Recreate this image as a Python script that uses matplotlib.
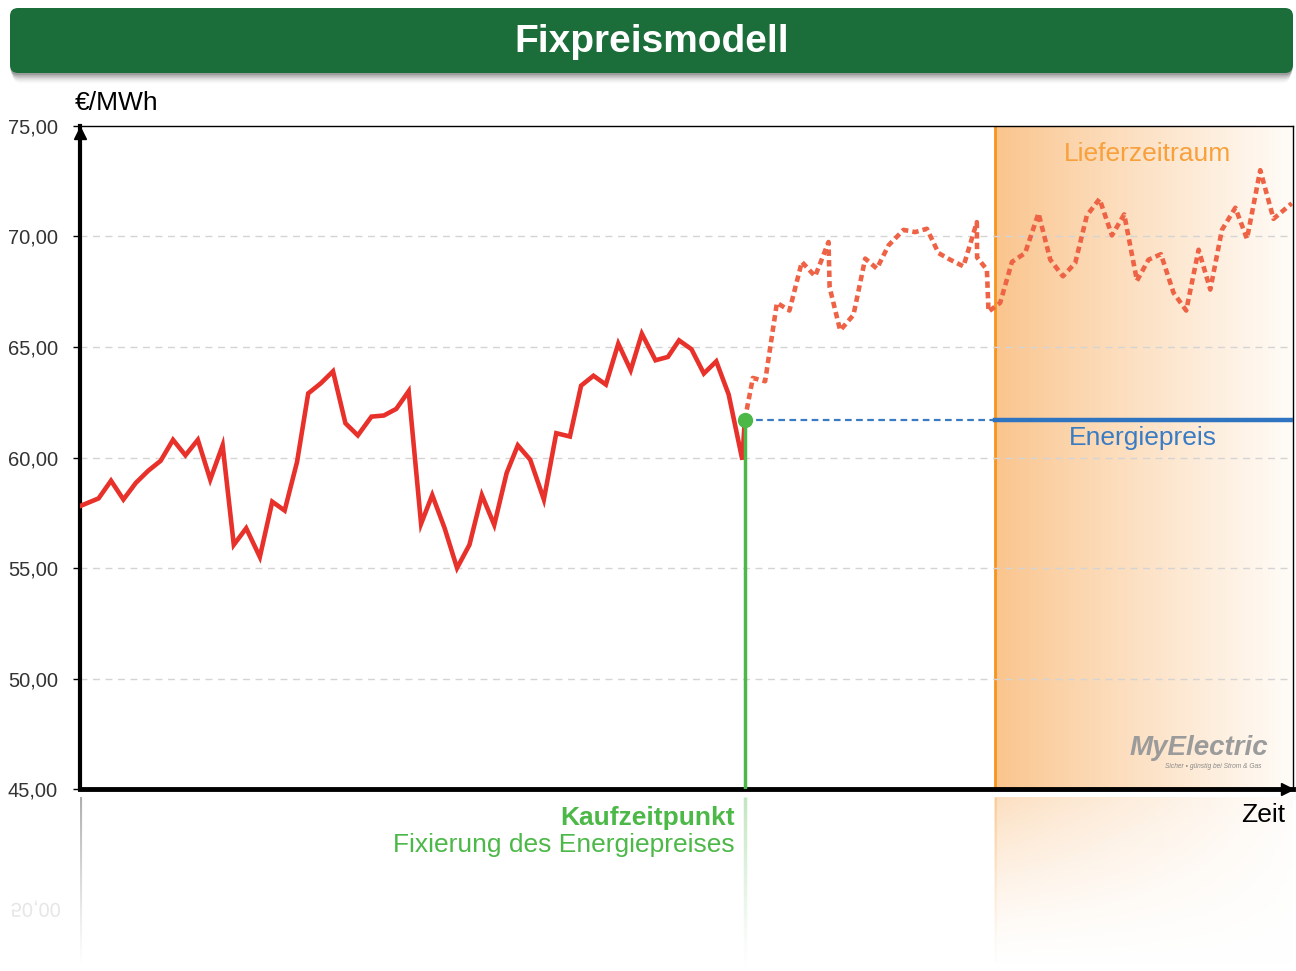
import numpy as np
import matplotlib
matplotlib.use("Agg")
import matplotlib.pyplot as plt
import matplotlib.transforms as mtransforms
from matplotlib.patches import FancyBboxPatch, PathPatch
from matplotlib.textpath import TextPath
from matplotlib.font_manager import FontProperties
from matplotlib.collections import LineCollection

plt.rcParams['font.family'] = ['Liberation Sans', 'DejaVu Sans']

W, H = 1296, 971

# price history up to the purchase date (time index, EUR/MWh)
hist_t = [0.0, 1.5, 2.5, 3.5, 4.5, 5.5, 6.5, 7.5, 8.5, 9.5, 10.5, 11.5, 12.4, 13.4,
          14.5, 15.5, 16.5, 17.5, 18.4, 19.4, 20.4, 21.4, 22.4, 23.5, 24.5, 25.5,
          26.5, 27.5, 28.4, 29.4, 30.4, 31.4, 32.4, 33.4, 34.4, 35.3, 36.3, 37.4,
          38.4, 39.5, 40.4, 41.4, 42.4, 43.4, 44.4, 45.3, 46.4, 47.4, 48.3, 49.3,
          50.3, 51.3, 52.3, 53.4, 53.6]
hist_v = [57.8, 58.15, 58.95, 58.1, 58.85, 59.4, 59.85, 60.8, 60.1, 60.8, 59.0, 60.55,
          56.05, 56.8, 55.5, 58.0, 57.6, 59.8, 62.9, 63.35, 63.9, 61.55, 61.0, 61.85,
          61.9, 62.2, 63.0, 57.0, 58.3, 56.8, 55.0, 56.05, 58.3, 56.95, 59.3, 60.55,
          59.9, 58.1, 61.1, 60.95, 63.25, 63.7, 63.3, 65.15, 63.95, 65.6, 64.4, 64.55,
          65.3, 64.9, 63.8, 64.35, 62.85, 59.9, 61.7]

# market price after the purchase date
fc_t = [53.6, 54.25, 55.24, 56.19, 57.2, 58.2, 59.27, 60.35, 60.44, 61.29, 62.36,
        63.31, 64.25, 65.19, 66.4, 67.34, 68.28, 69.22, 70.16, 71.23, 72.31, 72.33,
        73.12, 73.25, 74.19, 75.14, 76.2, 77.28, 78.23, 79.25, 80.24, 81.18, 82.2,
        83.2, 84.19, 85.22, 86.15, 87.15, 88.17, 89.19, 90.19, 91.13, 92.07, 93.15,
        94.09, 95.16, 96.23, 97.7]
fc_v = [61.7, 63.6, 63.45, 67.0, 66.65, 68.85, 68.2, 69.75, 67.7, 65.75, 66.45,
        69.0, 68.55, 69.6, 70.3, 70.2, 70.35, 69.25, 68.95, 68.65, 70.65, 69.05,
        68.5, 66.6, 67.0, 68.85, 69.25, 71.05, 68.95, 68.2, 68.8, 70.95, 71.7,
        70.05, 71.0, 68.0, 68.95, 69.2, 67.45, 66.65, 69.4, 67.6, 70.3, 71.3,
        69.9, 73.0, 70.8, 71.5]

y_ticks = [45, 50, 55, 60, 65, 70, 75]
y_labels = [f"{v:.2f}".replace('.', ',') for v in y_ticks]

buy_t = 53.6
fixed_price = 61.7
delivery_start = 73.8
t_end = 97.8
y_min, y_max = 45, 75

fig = plt.figure(figsize=(W / 100, H / 100), dpi=100)
fig.patch.set_facecolor('white')

# background layer in pixel coordinates (title bar)
bg = fig.add_axes([0, 0, 1, 1])
bg.set_xlim(0, W)
bg.set_ylim(H, 0)
bg.axis('off')
for i, a in enumerate([0.12, 0.10, 0.08, 0.06, 0.04, 0.03, 0.02]):
    bg.add_patch(FancyBboxPatch((10 + i * 0.5, 10 + i * 1.4), 1283 - i, 65,
                                boxstyle='round,pad=0,rounding_size=8',
                                fc='black', ec='none', alpha=a))
bg.add_patch(FancyBboxPatch((10, 8), 1283, 65, boxstyle='round,pad=0,rounding_size=8',
                            fc='#1b6e3a', ec='none'))
bg.text(652, 42, 'Fixpreismodell', color='white', fontsize=28, fontweight='bold',
        ha='center', va='center')

# main chart
ax = fig.add_axes([80 / W, (H - 789) / H, 1213 / W, 663 / H])
ax.set_xlim(0, t_end)
ax.set_ylim(y_min, y_max)

# delivery period gradient
ramp = np.linspace(0, 1, 300) ** 0.9
left_c = np.array([250, 196, 140]) / 255
right_c = np.array([255, 252, 248]) / 255
grad = left_c[None, :] * (1 - ramp[:, None]) + right_c[None, :] * ramp[:, None]
ax.imshow(grad[None, :, :], extent=[delivery_start, t_end, y_min, y_max],
          aspect='auto', zorder=0, interpolation='bilinear')
ax.axvline(delivery_start, color='#f7941d', lw=2, zorder=1)

for v in y_ticks[1:-1]:
    ax.axhline(v, color='#d4d4d4', lw=1, ls=(0, (5, 4)), zorder=1)

ax.plot(hist_t, hist_v, color='#e8312a', lw=3.3, solid_joinstyle='miter', zorder=4)
ax.plot(fc_t, fc_v, color='#ee6245', lw=3.3, ls=(0, (1.4, 0.9)),
        dash_capstyle='butt', zorder=4)

ax.plot([buy_t, delivery_start], [fixed_price, fixed_price], color='#3a7cc3',
        lw=1.6, ls=(0, (3, 2)), zorder=3)
ax.plot([delivery_start, t_end], [fixed_price, fixed_price], color='#2f74c0',
        lw=3.2, zorder=3)
ax.plot([buy_t, buy_t], [y_min, fixed_price], color='#4cb848', lw=2.5, zorder=5)
ax.plot(buy_t, fixed_price, 'o', ms=10, color='#4cb848', zorder=6)

ax.text(86.1, 73.75, 'Lieferzeitraum', color='#f7a03c', fontsize=19,
        ha='center', va='center', zorder=5)
ax.text(85.7, 60.9, 'Energiepreis', color='#3a7cc3', fontsize=19,
        ha='center', va='center', zorder=5)

# logo
ax.text(95.8, 46.85, 'MyElectric', color='#9b9b9b', fontsize=20, fontweight='bold',
        style='italic', ha='right', va='center', zorder=5)
ax.text(95.3, 46.0, 'Sicher • günstig bei Strom & Gas', color='#8a8a8a', fontsize=4.8,
        style='italic', ha='right', va='center', zorder=5)

# axes styling
for side in ['top', 'right']:
    ax.spines[side].set_linewidth(1)
    ax.spines[side].set_color('black')
ax.spines['left'].set_linewidth(3)
ax.spines['bottom'].set_linewidth(3.5)
ax.set_xticks([])
ax.set_yticks(y_ticks)
ax.set_yticklabels(y_labels)
ax.tick_params(axis='y', length=5, width=1, pad=11, labelsize=14.5, labelcolor='#333333')
ax.plot(0, 74.7, marker='^', ms=9, color='black', clip_on=False, zorder=7)
ax.plot(t_end - 0.45, y_min, marker='>', ms=9, color='black', clip_on=False, zorder=7)

fig.text(75 / W, 1 - 103 / H, '€/MWh', fontsize=19, ha='left', va='center')
fig.text(1285 / W, 1 - 815 / H, 'Zeit', fontsize=19, ha='right', va='center')
fig.text(735 / W, 1 - 818 / H, 'Kaufzeitpunkt', fontsize=19, fontweight='bold',
         color='#4cb848', ha='right', va='center')
fig.text(735 / W, 1 - 845 / H, 'Fixierung des Energiepreises', fontsize=19,
         color='#4cb848', ha='right', va='center')

# reflection below the chart
rax = fig.add_axes([80 / W, (H - 968) / H, 1213 / W, (968 - 797) / H])
rax.set_xlim(0, t_end)
rax.set_ylim(0, 1)
rax.axis('off')
fade = np.linspace(1, 0, 200) ** 1.4
refl = np.ones((200, 300, 4))
refl[:, :, :3] = grad[None, :, :]
refl[:, :, 3] = 0.55 * fade[:, None]
rax.imshow(refl, extent=[delivery_start, t_end, 0, 1], aspect='auto',
           interpolation='bilinear', zorder=0)


def fade_vline(x, color, lw, a0):
    ys = np.linspace(1, 0, 60)
    segs = [[(x, ys[i]), (x, ys[i + 1])] for i in range(len(ys) - 1)]
    base = matplotlib.colors.to_rgb(color)
    cols = [(*base, a0 * (1 - i / (len(segs) - 1)) ** 1.2) for i in range(len(segs))]
    rax.add_collection(LineCollection(segs, colors=cols, linewidths=lw))


fade_vline(0, '#9a9a9a', 3, 0.8)
fade_vline(buy_t, '#4cb848', 2.5, 0.35)
fade_vline(delivery_start, '#f7941d', 2, 0.25)

# mirrored tick label in the reflection
tp = TextPath((0, 0), y_labels[1], size=20, prop=FontProperties(family='Liberation Sans'))
ext = tp.get_extents()
trans = mtransforms.Affine2D().scale(1, -1).translate(60 - ext.x1, H - 903)
fig.add_artist(PathPatch(tp, transform=trans, fc='#e6e6e6', ec='none'))

fig.savefig('out.png', dpi=100)
